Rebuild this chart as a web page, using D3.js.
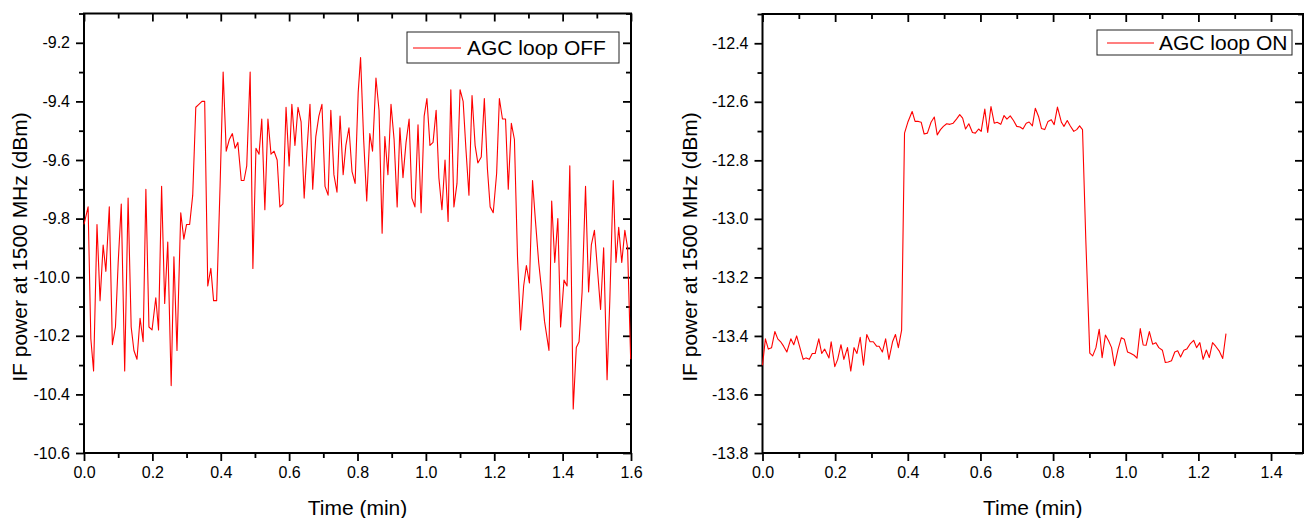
<!DOCTYPE html>
<html lang="en">

<head>
    <meta charset="UTF-8">
    <title>AGC loop</title>
    <script src="https://d3js.org/d3.v7.min.js"></script>
    <style>
        html,
        body {
            margin: 0;
            background: #fff;
            overflow: hidden;
        }

        text {
            font-family: "Liberation Sans", Arial, sans-serif;
            fill: #000;
        }
    </style>
</head>

<body>
    <svg id="svg"></svg>
    <script>
        // ---- data ----
        const offTime = [0.000, 0.012, 0.020, 0.028, 0.038, 0.047, 0.056, 0.064, 0.074, 0.083, 0.092, 0.100, 0.109, 0.119, 0.129, 0.138,
            0.146, 0.155, 0.164, 0.173, 0.181, 0.190, 0.199, 0.210, 0.218, 0.227, 0.236, 0.245, 0.255, 0.263, 0.272, 0.283,
            0.292, 0.300, 0.309, 0.318, 0.327, 0.336, 0.345, 0.353, 0.362, 0.371, 0.379, 0.388, 0.398, 0.407, 0.416, 0.425,
            0.434, 0.442, 0.450, 0.460, 0.468, 0.476, 0.486, 0.494, 0.503, 0.512, 0.520, 0.529, 0.538, 0.547, 0.556, 0.565,
            0.573, 0.582, 0.591, 0.600, 0.608, 0.617, 0.626, 0.635, 0.644, 0.652, 0.661, 0.669, 0.678, 0.687, 0.696, 0.705,
            0.714, 0.722, 0.731, 0.740, 0.749, 0.758, 0.766, 0.775, 0.784, 0.793, 0.802, 0.809, 0.818, 0.827, 0.836, 0.844,
            0.854, 0.863, 0.872, 0.880, 0.889, 0.898, 0.907, 0.916, 0.924, 0.933, 0.942, 0.951, 0.959, 0.968, 0.977, 0.986,
            0.995, 1.003, 1.012, 1.021, 1.030, 1.038, 1.047, 1.056, 1.065, 1.073, 1.082, 1.091, 1.100, 1.109, 1.117, 1.126,
            1.135, 1.144, 1.152, 1.162, 1.171, 1.180, 1.188, 1.197, 1.207, 1.215, 1.224, 1.233, 1.241, 1.250, 1.259, 1.268,
            1.277, 1.286, 1.294, 1.303, 1.312, 1.320, 1.330, 1.339, 1.347, 1.360, 1.368, 1.377, 1.386, 1.394, 1.404, 1.413,
            1.421, 1.431, 1.440, 1.448, 1.457, 1.467, 1.476, 1.484, 1.493, 1.503, 1.511, 1.520, 1.530, 1.538, 1.548, 1.556,
            1.564, 1.573, 1.582, 1.590, 1.599];
        const offPower = [-9.82, -9.76, -10.21, -10.32, -9.82, -10.08, -9.89, -9.98, -9.76, -10.23, -10.17, -9.95, -9.75, -10.32, -9.73, -10.17,
            -10.25, -10.28, -10.14, -10.22, -9.70, -10.17, -10.18, -10.07, -10.18, -9.69, -10.09, -9.88, -10.37, -9.93, -10.25, -9.78,
            -9.87, -9.82, -9.82, -9.72, -9.42, -9.41, -9.40, -9.40, -10.03, -9.97, -10.08, -10.08, -9.69, -9.30, -9.57, -9.53,
            -9.51, -9.56, -9.54, -9.67, -9.67, -9.62, -9.30, -9.97, -9.56, -9.58, -9.46, -9.77, -9.46, -9.58, -9.57, -9.60,
            -9.76, -9.75, -9.42, -9.62, -9.41, -9.55, -9.42, -9.47, -9.73, -9.57, -9.41, -9.70, -9.52, -9.45, -9.41, -9.69,
            -9.72, -9.43, -9.65, -9.71, -9.45, -9.65, -9.55, -9.49, -9.64, -9.68, -9.37, -9.25, -9.53, -9.74, -9.51, -9.57,
            -9.32, -9.43, -9.85, -9.52, -9.65, -9.41, -9.53, -9.76, -9.49, -9.66, -9.54, -9.46, -9.73, -9.76, -9.48, -9.78,
            -9.45, -9.39, -9.55, -9.54, -9.43, -9.66, -9.77, -9.60, -9.81, -9.36, -9.76, -9.68, -9.36, -9.40, -9.56, -9.72,
            -9.38, -9.55, -9.61, -9.59, -9.39, -9.63, -9.76, -9.78, -9.645, -9.39, -9.46, -9.46, -9.70, -9.475, -9.53, -9.93,
            -10.18, -10.03, -9.96, -10.02, -9.67, -9.80, -9.95, -10.05, -10.15, -10.25, -9.74, -9.95, -9.80, -10.17, -10.01, -10.03,
            -9.62, -10.45, -10.24, -10.22, -10.05, -9.69, -10.05, -9.89, -9.84, -9.99, -10.11, -9.90, -10.35, -10.08, -9.67, -9.95,
            -9.83, -9.95, -9.84, -9.90, -10.28];

        const onTime = [0.000, 0.008, 0.016, 0.025, 0.034, 0.042, 0.050, 0.058, 0.067, 0.078, 0.086, 0.094, 0.103, 0.112, 0.120, 0.129,
            0.137, 0.145, 0.155, 0.163, 0.171, 0.183, 0.189, 0.199, 0.207, 0.216, 0.224, 0.234, 0.243, 0.252, 0.260, 0.269,
            0.278, 0.287, 0.296, 0.305, 0.314, 0.321, 0.330, 0.339, 0.348, 0.358, 0.366, 0.374, 0.383, 0.391, 0.400, 0.412,
            0.420, 0.429, 0.437, 0.445, 0.454, 0.464, 0.473, 0.481, 0.490, 0.498, 0.507, 0.516, 0.525, 0.534, 0.543, 0.551,
            0.559, 0.568, 0.578, 0.586, 0.595, 0.602, 0.612, 0.620, 0.629, 0.638, 0.646, 0.656, 0.665, 0.673, 0.682, 0.691,
            0.700, 0.709, 0.717, 0.726, 0.734, 0.743, 0.751, 0.760, 0.768, 0.777, 0.786, 0.795, 0.803, 0.812, 0.823, 0.830,
            0.839, 0.847, 0.857, 0.865, 0.873, 0.881, 0.890, 0.901, 0.909, 0.918, 0.927, 0.935, 0.944, 0.953, 0.961, 0.969,
            0.979, 0.988, 0.996, 1.005, 1.013, 1.023, 1.031, 1.040, 1.048, 1.056, 1.065, 1.074, 1.083, 1.091, 1.101, 1.109,
            1.117, 1.126, 1.135, 1.143, 1.151, 1.160, 1.168, 1.178, 1.187, 1.195, 1.204, 1.213, 1.222, 1.230, 1.239, 1.248,
            1.257, 1.267, 1.276];
        const onPower = [-13.50, -13.41, -13.445, -13.44, -13.385, -13.41, -13.42, -13.435, -13.455, -13.41, -13.43, -13.40, -13.44, -13.48, -13.475, -13.48,
            -13.46, -13.46, -13.41, -13.46, -13.445, -13.475, -13.42, -13.505, -13.48, -13.43, -13.48, -13.44, -13.52, -13.44, -13.46, -13.405,
            -13.50, -13.395, -13.42, -13.42, -13.435, -13.435, -13.455, -13.41, -13.48, -13.42, -13.395, -13.44, -13.38, -12.707, -12.67, -12.633,
            -12.667, -12.667, -12.67, -12.71, -12.707, -12.67, -12.652, -12.713, -12.695, -12.684, -12.675, -12.677, -12.673, -12.659, -12.644, -12.656,
            -12.693, -12.675, -12.705, -12.707, -12.693, -12.701, -12.625, -12.705, -12.616, -12.673, -12.67, -12.677, -12.647, -12.659, -12.648, -12.664,
            -12.684, -12.686, -12.693, -12.673, -12.669, -12.682, -12.622, -12.65, -12.691, -12.695, -12.667, -12.661, -12.678, -12.618, -12.67, -12.684,
            -12.664, -12.682, -12.701, -12.695, -12.682, -12.695, -13.07, -13.459, -13.468, -13.44, -13.377, -13.474, -13.397, -13.417, -13.44, -13.502,
            -13.445, -13.406, -13.411, -13.455, -13.459, -13.466, -13.476, -13.375, -13.431, -13.432, -13.385, -13.428, -13.423, -13.44, -13.449, -13.491,
            -13.489, -13.485, -13.455, -13.451, -13.472, -13.449, -13.445, -13.426, -13.415, -13.44, -13.423, -13.48, -13.448, -13.474, -13.423, -13.436,
            -13.451, -13.477, -13.392];

        const offLegend = 'AGC loop OFF';
        const onLegend = 'AGC loop ON';
        const xTitle = 'Time (min)';
        const yTitle = 'IF power at 1500 MHz (dBm)';

        // ---- drawing ----
        const width = 1307, height = 518;
        const svg = d3.select('#svg').attr('width', width).attr('height', height);

        const panels = [
            {
                time: offTime, power: offPower, legend: offLegend,
                left: 84, right: 631, top: 13.5, bottom: 453,
                xDomain: [0, 1.6], yDomain: [-10.6, -9.1],
                xMajor: d3.range(0, 1.61, 0.2), xMinor: d3.range(0.1, 1.6, 0.2),
                yMajor: d3.range(-10.6, -9.15, 0.2), yMinor: d3.range(-10.5, -9.05, 0.2),
                legendBox: [407, 32, 212, 31], legendLine: [413, 461, 48], legendText: [467, 55],
                yTitleX: 27
            },
            {
                time: onTime, power: onPower, legend: onLegend,
                left: 762.5, right: 1303, top: 14, bottom: 453,
                xDomain: [0, 1.488], yDomain: [-13.8, -12.3],
                xMajor: d3.range(0, 1.41, 0.2), xMinor: d3.range(0.1, 1.5, 0.2),
                yMajor: d3.range(-13.8, -12.35, 0.2), yMinor: d3.range(-13.7, -12.25, 0.2),
                legendBox: [1097, 30, 195, 25], legendLine: [1107, 1154, 43], legendText: [1159, 50],
                yTitleX: 697
            }
        ];

        const fmt = d => d.toFixed(1);

        panels.forEach(p => {
            const x = d3.scaleLinear().domain(p.xDomain).range([p.left, p.right]);
            const y = d3.scaleLinear().domain(p.yDomain).range([p.bottom, p.top]);
            const g = svg.append('g');

            const styleAxis = (sel) => {
                sel.select('.domain').remove();
                sel.selectAll('line').attr('stroke', '#000').attr('stroke-width', 1.8);
                sel.selectAll('text').attr('font-size', 16)
                    .attr('font-family', '"Liberation Sans", Arial, sans-serif');
            };

            // bottom + left, ticks out with labels
            g.append('g').attr('transform', `translate(0,${p.bottom})`)
                .call(d3.axisBottom(x).tickValues(p.xMajor).tickFormat(fmt).tickSize(8).tickPadding(6))
                .call(styleAxis);
            g.append('g').attr('transform', `translate(0,${p.bottom})`)
                .call(d3.axisBottom(x).tickValues(p.xMinor).tickFormat('').tickSize(5))
                .call(styleAxis);
            g.append('g').attr('transform', `translate(${p.left},0)`)
                .call(d3.axisLeft(y).tickValues(p.yMajor).tickFormat(fmt).tickSize(8).tickPadding(6))
                .call(styleAxis);
            g.append('g').attr('transform', `translate(${p.left},0)`)
                .call(d3.axisLeft(y).tickValues(p.yMinor).tickFormat('').tickSize(5))
                .call(styleAxis);

            // top + right mirror, ticks in
            g.append('g').attr('transform', `translate(0,${p.top})`)
                .call(d3.axisTop(x).tickValues(p.xMajor).tickFormat('').tickSize(-8))
                .call(styleAxis);
            g.append('g').attr('transform', `translate(0,${p.top})`)
                .call(d3.axisTop(x).tickValues(p.xMinor).tickFormat('').tickSize(-5))
                .call(styleAxis);
            g.append('g').attr('transform', `translate(${p.right},0)`)
                .call(d3.axisRight(y).tickValues(p.yMajor).tickFormat('').tickSize(-8))
                .call(styleAxis);
            g.append('g').attr('transform', `translate(${p.right},0)`)
                .call(d3.axisRight(y).tickValues(p.yMinor).tickFormat('').tickSize(-5))
                .call(styleAxis);

            // frame
            g.append('rect')
                .attr('x', p.left).attr('y', p.top)
                .attr('width', p.right - p.left).attr('height', p.bottom - p.top)
                .attr('fill', 'none').attr('stroke', '#000').attr('stroke-width', 2);

            // series
            const pts = p.time.map((t, i) => [t, p.power[i]]);
            g.append('path')
                .datum(pts)
                .attr('fill', 'none')
                .attr('stroke', '#ff0000')
                .attr('stroke-width', 1.1)
                .attr('stroke-linejoin', 'round')
                .attr('d', d3.line().x(d => x(d[0])).y(d => y(d[1])));

            // legend
            const [bx, by, bw, bh] = p.legendBox;
            g.append('rect').attr('x', bx).attr('y', by).attr('width', bw).attr('height', bh)
                .attr('fill', '#fff').attr('stroke', '#222').attr('stroke-width', 1);
            g.append('line')
                .attr('x1', p.legendLine[0]).attr('x2', p.legendLine[1])
                .attr('y1', p.legendLine[2]).attr('y2', p.legendLine[2])
                .attr('stroke', '#ff0000').attr('stroke-width', 1.1);
            g.append('text').attr('x', p.legendText[0]).attr('y', p.legendText[1])
                .attr('font-size', 21).text(p.legend);

            // axis titles
            g.append('text')
                .attr('x', (p.left + p.right) / 2).attr('y', 515)
                .attr('text-anchor', 'middle').attr('font-size', 21)
                .text(xTitle);
            g.append('text')
                .attr('transform', `translate(${p.yTitleX},247) rotate(-90)`)
                .attr('text-anchor', 'middle').attr('font-size', 21)
                .text(yTitle);
        });
    </script>
</body>

</html>
